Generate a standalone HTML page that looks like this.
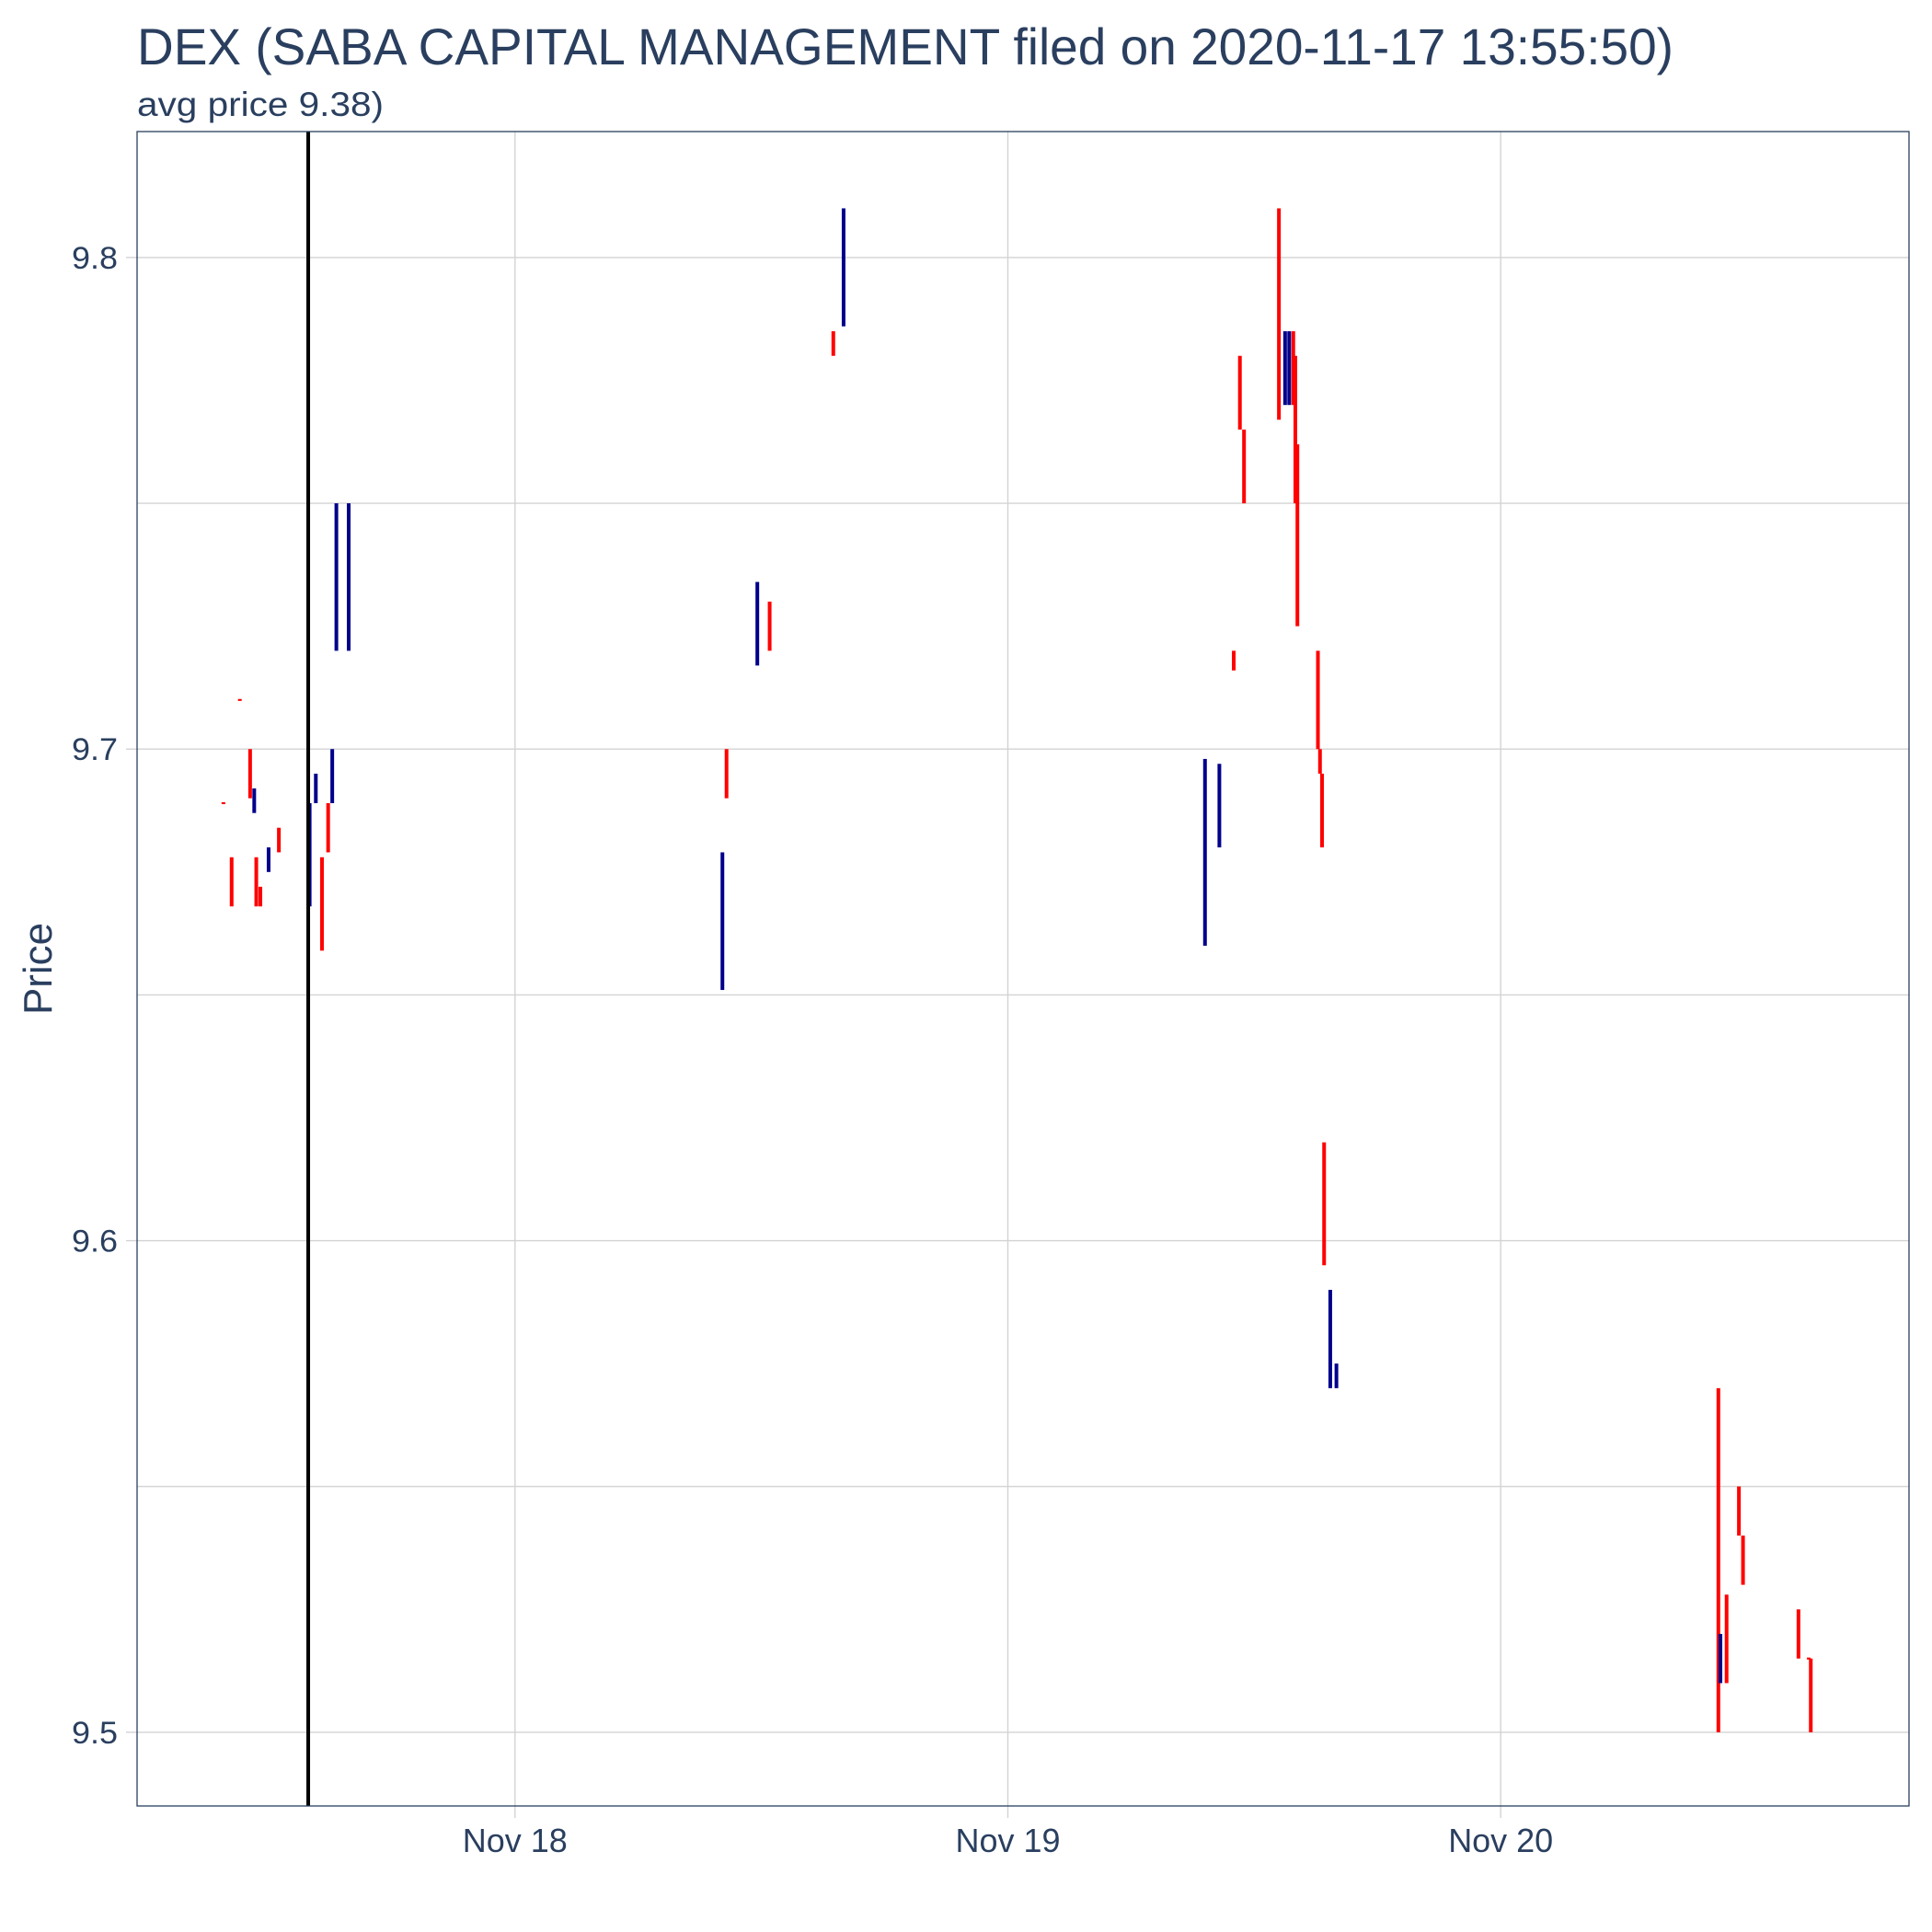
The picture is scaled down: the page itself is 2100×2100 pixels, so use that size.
<!DOCTYPE html>
<html><head><meta charset="utf-8">
<style>
html,body{margin:0;padding:0;background:#fff;}
svg{display:block;font-family:"Liberation Sans",sans-serif;}
</style></head>
<body>
<svg id="chart" width="2100" height="2100" viewBox="0 0 2100 2100" xmlns="http://www.w3.org/2000/svg">
<text x="149" y="70" font-size="56" fill="#2a3f5f" textLength="1670" lengthAdjust="spacingAndGlyphs">DEX (SABA CAPITAL MANAGEMENT filed on 2020-11-17 13:55:50)</text>
<text x="149" y="126" font-size="37" fill="#2a3f5f" textLength="268" lengthAdjust="spacingAndGlyphs">avg price 9.38)</text>
<text transform="translate(56,1053) rotate(-90)" text-anchor="middle" font-size="44" fill="#2a3f5f" textLength="100" lengthAdjust="spacingAndGlyphs">Price</text>
<g id="grid"></g>
<g id="marks"></g>
<rect x="149" y="143" width="1926" height="1820" fill="none" stroke="#2a3f5f" stroke-width="1.3"/>
</svg>
<script>
// hours relative to Nov 18 00:00
const times = [-14.2,-13.8,-13.4,-12.9,-12.7,-12.6,-12.4,-12.0,-11.5,-10.0,-9.7,-9.4,-9.1,-8.9,-8.7,-8.1,10.1,10.3,11.8,12.4,15.5,16.0,33.6,34.3,35.0,35.3,35.5,37.2,37.5,37.7,37.9,38.0,38.1,39.1,39.2,39.3,39.4,39.7,40.0,58.6,58.7,59.0,59.6,59.8,62.5,63.0,63.1];
const opens = [9.6892,9.678,9.7102,9.700,9.687,9.678,9.672,9.675,9.684,9.668,9.689,9.678,9.689,9.689,9.720,9.720,9.651,9.700,9.717,9.730,9.785,9.786,9.660,9.680,9.720,9.780,9.765,9.810,9.770,9.770,9.785,9.780,9.762,9.720,9.700,9.695,9.620,9.570,9.570,9.570,9.510,9.528,9.550,9.540,9.525,9.5152,9.515];
const closes = [9.6888,9.668,9.7098,9.690,9.692,9.668,9.668,9.680,9.679,9.689,9.695,9.659,9.679,9.700,9.750,9.750,9.679,9.690,9.734,9.720,9.780,9.810,9.698,9.697,9.716,9.765,9.750,9.767,9.785,9.785,9.770,9.750,9.725,9.700,9.695,9.680,9.595,9.590,9.575,9.500,9.520,9.510,9.540,9.530,9.515,9.5148,9.500];
const yTicks = [9.5,9.6,9.7,9.8];
const xTicks = [0,24,48];
const xTickLabels = ["Nov 18","Nov 19","Nov 20"];
const filingTime = -10.07;

const ns = "http://www.w3.org/2000/svg";
const X0=149,X1=2075,Y0=143,Y1=1963;
function xScale(h){return 559.8 + h*(535.7/24);}
function yScale(p){return 1882.9 - (p-9.5)*(1603/0.3);}
function mk(tag,attrs,parent){const e=document.createElementNS(ns,tag);for(const k in attrs)e.setAttribute(k,attrs[k]);parent.appendChild(e);return e;}
const grid=document.getElementById('grid'), marks=document.getElementById('marks');

for(let v=9.5; v<=9.84; v+=0.05){
  const y=yScale(v);
  if(y<Y0||y>Y1) continue;
  const l=mk('line',{x1:X0,x2:X1,y1:y,y2:y,stroke:'#d3d3d3','stroke-width':1.4},grid);
  
  
}
yTicks.forEach(v=>{
  const y=yScale(v);
  const tk=mk('line',{x1:X0-12,x2:X0,y1:y,y2:y,stroke:'#d3d3d3','stroke-width':1.4},grid);
  
  
  const t=mk('text',{x:X0-21,y:y+12,'text-anchor':'end','font-size':34,fill:'#2a3f5f',textLength:50,lengthAdjust:'spacingAndGlyphs'},grid);
  t.textContent=v.toFixed(1);
  
  
});
xTicks.forEach((h,i)=>{
  const x=xScale(h);
  const l=mk('line',{x1:x,x2:x,y1:Y0,y2:Y1+13,stroke:'#d3d3d3','stroke-width':1.4},grid);
  
  
  const t=mk('text',{x:x,y:2013,'text-anchor':'middle','font-size':36,fill:'#2a3f5f',textLength:114,lengthAdjust:'spacingAndGlyphs'},grid);
  t.textContent=xTickLabels[i];
  
  
});
times.forEach((h,i)=>{
  const o=opens[i],c=closes[i];
  const y1=yScale(Math.max(o,c)), y2=yScale(Math.min(o,c));
  const r=mk('rect',{x:xScale(h)-2,y:y1,width:4,height:Math.max(1,y2-y1),fill:c>=o?'#00008b':'#ff0000'},marks);
  
  
});
const fl=mk('line',{x1:xScale(filingTime),x2:xScale(filingTime),y1:Y0,y2:Y1,stroke:'#000','stroke-width':4},marks);


</script>
</body></html>
